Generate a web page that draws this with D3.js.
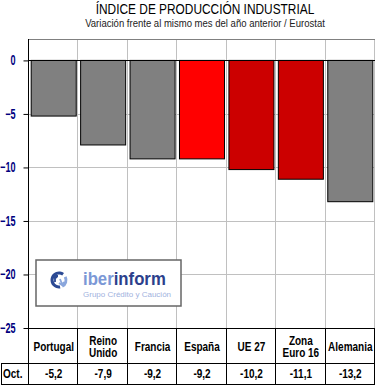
<!DOCTYPE html>
<html>
<head>
<meta charset="utf-8">
<script src="https://cdn.jsdelivr.net/npm/d3@7"></script>
<style>
    body { margin: 0; background: #fff; }
    text { font-family: "Liberation Sans", Arial, sans-serif; }
</style>
</head>
<body>
<div id="chart"></div>
<script>
// chart data
var categories = ["Portugal", "Reino Unido", "Francia", "España", "UE 27", "Zona Euro 16", "Alemania"];
var labelLines = [["Portugal"], ["Reino", "Unido"], ["Francia"], ["España"], ["UE 27"], ["Zona", "Euro 16"], ["Alemania"]];
var values = [-5.2, -7.9, -9.2, -9.2, -10.2, -11.1, -13.2];
var valueLabels = ["-5,2", "-7,9", "-9,2", "-9,2", "-10,2", "-11,1", "-13,2"];
var rowLabel = "Oct.";
var yTicks = [0, -5, -10, -15, -20, -25];
var title = "ÍNDICE DE PRODUCCIÓN  INDUSTRIAL";
var subtitle = "Variación frente al mismo mes del año anterior / Eurostat";

var width = 376, height = 389;
var plot = { left: 29, right: 375, top: 39, bottom: 328 };
var tableMid = 363, tableBottom = 384;

// bar colours: Spain highlighted, EU aggregates dark red, others grey
function barColor(c) {
    if (c === "España") return "#ff0000";
    if (c === "UE 27" || c === "Zona Euro 16") return "#cc0000";
    return "#808080";
}

// squeeze text horizontally (original picture is narrow)
function squeeze(sel, k) {
    sel.each(function () {
        var t = d3.select(this);
        var x = +t.attr("x") || 0, y = +t.attr("y") || 0;
        t.attr("x", 0).attr("y", 0)
            .attr("transform", "translate(" + x + "," + y + ") scale(" + k + ",1)");
    });
}

var svg = d3.select("#chart").append("svg")
    .attr("width", width)
    .attr("height", height);

var x = d3.scaleBand()
    .domain(categories)
    .range([plot.left, plot.right])
    .padding(0);

var y = d3.scaleLinear()
    .domain([-25, 2])
    .range([plot.bottom, plot.top]);

// titles
svg.append("text")
    .attr("x", 205).attr("y", 14)
    .attr("text-anchor", "middle")
    .style("font-size", "14.5px")
    .text(title)
    .call(squeeze, 0.82);

svg.append("text")
    .attr("x", 205).attr("y", 27)
    .attr("text-anchor", "middle")
    .style("font-size", "11.5px")
    .attr("fill", "#222")
    .text(subtitle)
    .call(squeeze, 0.83);

// horizontal gridlines
svg.append("g")
    .selectAll("line")
    .data(yTicks.filter(function (d) { return d !== 0 && d !== -25; }))
    .enter().append("line")
    .attr("x1", plot.left).attr("x2", plot.right)
    .attr("y1", function (d) { return Math.round(y(d)) + 0.5; })
    .attr("y2", function (d) { return Math.round(y(d)) + 0.5; })
    .attr("stroke", "#c0c0c0");

// vertical gridlines at the category boundaries
var bounds = categories.map(function (c) { return x(c); }).slice(1).concat([plot.right]);
svg.append("g")
    .selectAll("line")
    .data(bounds)
    .enter().append("line")
    .attr("x1", function (d) { return Math.round(d) - 0.5; })
    .attr("x2", function (d) { return Math.round(d) - 0.5; })
    .attr("y1", plot.top).attr("y2", plot.bottom)
    .attr("stroke", "#c0c0c0");

// top border
svg.append("line")
    .attr("x1", plot.left).attr("x2", plot.right)
    .attr("y1", plot.top + 0.5).attr("y2", plot.top + 0.5)
    .attr("stroke", "#808080");

// logo box
var logo = svg.append("g");
logo.append("rect")
    .attr("x", 36).attr("y", 260)
    .attr("width", 145).attr("height", 46)
    .attr("fill", "#fff")
    .attr("stroke", "#666")
    .attr("stroke-width", 1.5);

var arc = d3.arc().innerRadius(5.5).outerRadius(8.5);
var icon = logo.append("g").attr("transform", "translate(59,280)");
icon.append("path")
    .attr("d", arc({ startAngle: -Math.PI * 1.05, endAngle: Math.PI * 0.2 }))
    .attr("fill", "#2c4a94");
icon.append("path")
    .attr("d", arc({ startAngle: Math.PI * 0.35, endAngle: Math.PI * 0.85 }))
    .attr("fill", "#8aa6dc");
icon.append("path")
    .attr("d", "M-4,2 L-4,-4 L-1,-4 M-6,-2 L-4,-4.5 L-2,-2")
    .attr("fill", "none").attr("stroke", "#2c4a94").attr("stroke-width", 1.8);
icon.append("path")
    .attr("d", "M1,-1 L3,4 M0,3 L3,5 L5,2")
    .attr("fill", "none").attr("stroke", "#8aa6dc").attr("stroke-width", 1.8);

var brand = logo.append("text")
    .attr("x", 83).attr("y", 285)
    .style("font-size", "18px")
    .style("font-weight", "bold");
brand.append("tspan").attr("fill", "#7b98d6").text("iber");
brand.append("tspan").attr("fill", "#2c3f8c").text("inform");
brand.call(squeeze, 0.93);

logo.append("text")
    .attr("x", 83).attr("y", 297)
    .style("font-size", "8px")
    .attr("fill", "#9fb2de")
    .text("Grupo Crédito y Caución");

// bars
var inset = 2.2;
svg.append("g")
    .selectAll("rect")
    .data(categories)
    .enter().append("rect")
    .attr("x", function (d) { return x(d) + inset; })
    .attr("width", x.bandwidth() - 2 * inset)
    .attr("y", y(0))
    .attr("height", function (d, i) { return y(values[i]) - y(0); })
    .attr("fill", function (d) { return barColor(d); })
    .attr("stroke", "#000")
    .attr("stroke-width", 1);

// zero line
svg.append("line")
    .attr("x1", plot.left).attr("x2", plot.right)
    .attr("y1", Math.round(y(0)) + 0.5).attr("y2", Math.round(y(0)) + 0.5)
    .attr("stroke", "#000");

// Y axis
var yAxis = svg.append("g")
    .attr("transform", "translate(" + (plot.left - 0.5) + ",0)")
    .call(d3.axisLeft(y)
        .tickValues(yTicks)
        .tickSize(5)
        .tickPadding(8)
        .tickFormat(d3.format("d")));
yAxis.select(".domain").remove();
yAxis.selectAll(".tick line").attr("stroke", "#000");
yAxis.selectAll(".tick text")
    .attr("fill", "#000080")
    .style("font-size", "14px")
    .style("font-weight", "bold")
    .style("font-family", "'Liberation Sans', Arial, sans-serif")
    .call(squeeze, 0.65);

// left axis line down through the table
svg.append("line")
    .attr("x1", plot.left - 0.5).attr("x2", plot.left - 0.5)
    .attr("y1", plot.top).attr("y2", tableBottom + 0.5)
    .attr("stroke", "#000");

// table lines
var table = svg.append("g").attr("stroke", "#000");
table.append("line")
    .attr("x1", plot.left).attr("x2", plot.right)
    .attr("y1", plot.bottom + 0.5).attr("y2", plot.bottom + 0.5);
table.append("line")
    .attr("x1", 1).attr("x2", plot.right)
    .attr("y1", tableMid + 0.5).attr("y2", tableMid + 0.5);
table.append("line")
    .attr("x1", 1).attr("x2", plot.right)
    .attr("y1", tableBottom + 0.5).attr("y2", tableBottom + 0.5);
table.append("line")
    .attr("x1", 1.5).attr("x2", 1.5)
    .attr("y1", tableMid).attr("y2", tableBottom + 0.5);
table.selectAll(".vline")
    .data(bounds)
    .enter().append("line")
    .attr("class", "vline")
    .attr("x1", function (d) { return Math.round(d) - 0.5; })
    .attr("x2", function (d) { return Math.round(d) - 0.5; })
    .attr("y1", plot.bottom).attr("y2", tableBottom + 0.5);

// category labels
var catText = svg.append("g")
    .selectAll("text")
    .data(categories)
    .enter().append("text")
    .attr("text-anchor", "middle")
    .style("font-size", "12.5px")
    .style("font-weight", "bold")
    .attr("x", function (d) { return x(d) + x.bandwidth() / 2; })
    .attr("y", function (d, i) { return labelLines[i].length > 1 ? 345 : 351; });
catText.each(function (d, i) {
    var t = d3.select(this);
    labelLines[i].forEach(function (line, j) {
        t.append("tspan")
            .attr("x", 0)
            .attr("dy", j === 0 ? 0 : 12)
            .text(line);
    });
});
catText.call(squeeze, 0.8);

// value row
svg.append("text")
    .attr("x", 3).attr("y", 378)
    .style("font-size", "12.5px")
    .style("font-weight", "bold")
    .text(rowLabel)
    .call(squeeze, 0.8);

svg.append("g")
    .selectAll("text")
    .data(valueLabels)
    .enter().append("text")
    .attr("text-anchor", "middle")
    .style("font-size", "12.5px")
    .style("font-weight", "bold")
    .attr("x", function (d, i) { return x(categories[i]) + x.bandwidth() / 2; })
    .attr("y", 378)
    .text(function (d) { return d; })
    .call(squeeze, 0.8);
</script>
</body>
</html>
